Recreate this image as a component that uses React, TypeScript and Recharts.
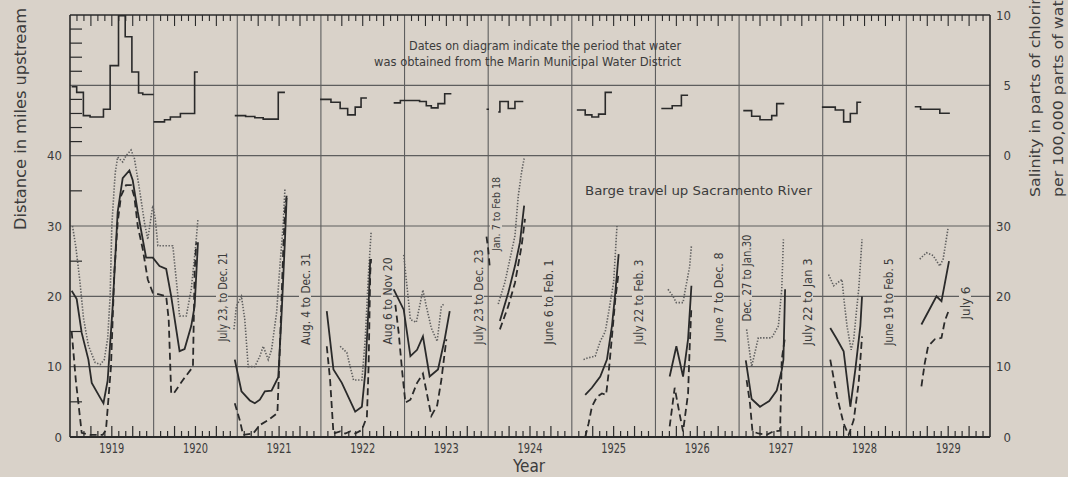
import React from 'react';
import { LineChart, Line, XAxis, YAxis, ReferenceLine } from 'recharts';

type Pt = [number, number];

// Tick labels
const yearLabels = [1919, 1920, 1921, 1922, 1923, 1924, 1925, 1926, 1927, 1928, 1929];
const leftMileLabels = [0, 10, 20, 30, 40];
const rightMileLabels = [0, 10, 20, 30];
const salinityLabels = [0, 5, 10];

// Distance in miles upstream, [year, miles], one segment per season
const solidMiles: Pt[][] = [
  [[1918.52, 20.8], [1918.58, 19.6], [1918.64, 14.8], [1918.72, 11], [1918.76, 7.7], [1918.86, 5.6], [1918.9, 4.8], [1918.95, 8], [1919.01, 18.5], [1919.07, 32], [1919.13, 36.8], [1919.21, 37.9], [1919.25, 36.5], [1919.31, 32], [1919.41, 25.5], [1919.49, 25.5], [1919.57, 24.3], [1919.65, 23.9], [1919.71, 20], [1919.81, 12.2], [1919.87, 12.5], [1919.95, 15.8], [1919.99, 18.6], [1920.03, 27.7]],
  [[1920.47, 11], [1920.55, 6.5], [1920.65, 5.2], [1920.71, 4.8], [1920.77, 5.3], [1920.83, 6.5], [1920.91, 6.6], [1920.99, 8.5], [1921.03, 17.5], [1921.07, 28], [1921.09, 34]],
  [[1921.57, 17.9], [1921.65, 9.6], [1921.75, 7.7], [1921.91, 3.6], [1921.99, 4.3], [1922.03, 9.1], [1922.07, 18.6], [1922.09, 25.3]],
  [[1922.37, 21], [1922.49, 18.1], [1922.57, 11.5], [1922.65, 12.4], [1922.72, 14.3], [1922.8, 8.6], [1922.9, 9.6], [1922.98, 13.9], [1923.04, 17.9]],
  [[1923.64, 16.5], [1923.74, 20.5], [1923.82, 24.3], [1923.88, 27.7], [1923.93, 32.9]],
  [[1924.66, 6], [1924.74, 7], [1924.84, 8.6], [1924.92, 11], [1924.98, 15.8], [1925.02, 20.5], [1925.06, 26]],
  [[1925.67, 8.6], [1925.75, 12.9], [1925.83, 8.6], [1925.89, 13.9], [1925.93, 21.5]],
  [[1926.58, 10.9], [1926.65, 5.4], [1926.75, 4.3], [1926.86, 5.1], [1926.95, 6.6], [1927.01, 9.5], [1927.03, 11], [1927.05, 21]],
  [[1927.59, 15.5], [1927.67, 13.9], [1927.75, 12.2], [1927.83, 4.3], [1927.89, 9.6], [1927.95, 15.8], [1927.97, 20]],
  [[1928.68, 16], [1928.86, 20], [1928.92, 19.3], [1929.01, 25]],
];

const dashedMiles: Pt[][] = [
  [[1918.52, 15], [1918.57, 8], [1918.64, 0.6], [1918.74, 0.3], [1918.89, 0.3], [1918.93, 1], [1918.99, 10], [1919.03, 23.4], [1919.07, 30.5], [1919.11, 34.3], [1919.17, 35.8], [1919.23, 35.8], [1919.27, 34.1], [1919.31, 30], [1919.37, 26.7], [1919.43, 22.4], [1919.49, 20.5], [1919.65, 20], [1919.68, 16.7], [1919.71, 6.2], [1919.74, 6.2], [1919.85, 8.1], [1919.97, 10], [1919.99, 23.4], [1920.01, 27.7]],
  [[1920.47, 4.8], [1920.53, 2.4], [1920.57, 0.3], [1920.69, 0.5], [1920.77, 1.7], [1920.87, 2.4], [1920.98, 3.4], [1921.01, 12.9], [1921.05, 26.7], [1921.07, 32], [1921.09, 34.3]],
  [[1921.57, 12.9], [1921.61, 8.1], [1921.65, 0.5], [1921.73, 0.8], [1921.79, 0.5], [1921.85, 0.8], [1921.91, 0.5], [1921.99, 1], [1922.05, 2.9], [1922.07, 10], [1922.09, 23.4], [1922.1, 25.3]],
  [[1922.39, 18.8], [1922.43, 14.8], [1922.47, 9.5], [1922.51, 4.9], [1922.57, 5.3], [1922.65, 7.7], [1922.72, 9], [1922.77, 6], [1922.82, 3], [1922.89, 4.5], [1922.94, 8.1], [1923.0, 13.9]],
  [[1923.48, 28.5], [1923.5, 26.7], [1923.52, 24]],
  [[1923.64, 15.3], [1923.74, 18.6], [1923.82, 21.9], [1923.9, 27.2], [1923.94, 31]],
  [[1924.66, 0], [1924.7, 1.9], [1924.74, 4.3], [1924.8, 5.7], [1924.86, 6.2], [1924.91, 6], [1924.94, 9.1], [1924.98, 14.3], [1925.02, 19.6], [1925.06, 23.4]],
  [[1925.67, 1.5], [1925.73, 7], [1925.79, 3.2], [1925.83, 0.8], [1925.89, 6.2], [1925.91, 13], [1925.93, 18.6]],
  [[1926.59, 8.1], [1926.63, 4.8], [1926.66, 0.8], [1926.73, 0.5], [1926.83, 0.3], [1926.91, 0.8], [1926.99, 0.9], [1927.01, 11], [1927.05, 14.3]],
  [[1927.59, 11], [1927.67, 5.8], [1927.75, 1.9], [1927.81, 0.3], [1927.87, 2.4], [1927.93, 7.7], [1927.97, 14.3]],
  [[1928.68, 7.2], [1928.72, 10.5], [1928.76, 12.9], [1928.84, 13.9], [1928.92, 14.1], [1928.96, 16.5], [1929.01, 18.1]],
];

const dottedMiles: Pt[][] = [
  [[1918.53, 30], [1918.57, 27], [1918.62, 22], [1918.66, 17], [1918.72, 13], [1918.8, 10.6], [1918.86, 10.3], [1918.91, 11], [1918.95, 14], [1918.98, 20], [1919.0, 30], [1919.04, 37.5], [1919.07, 39.8], [1919.13, 39.1], [1919.17, 40], [1919.23, 40.8], [1919.27, 39.6], [1919.33, 35.3], [1919.39, 30.5], [1919.43, 28.1], [1919.49, 32.9], [1919.52, 31], [1919.55, 27.2], [1919.73, 27.2], [1919.79, 20], [1919.81, 17.2], [1919.89, 17.2], [1919.95, 21], [1920.01, 28.1], [1920.03, 31]],
  [[1920.46, 15.3], [1920.49, 18.6], [1920.55, 20], [1920.59, 16.7], [1920.63, 10], [1920.71, 10], [1920.77, 11.5], [1920.81, 12.9], [1920.87, 11], [1920.91, 12.4], [1920.97, 17.7], [1921.01, 24.3], [1921.05, 30.5], [1921.07, 35.3]],
  [[1921.73, 12.9], [1921.81, 12], [1921.85, 10], [1921.89, 8.1], [1921.99, 8.1], [1922.03, 13.9], [1922.07, 23.4], [1922.1, 29.1]],
  [[1922.49, 25.9], [1922.55, 19], [1922.57, 16.7], [1922.64, 16.3], [1922.72, 20.9], [1922.76, 18.6], [1922.82, 15.5], [1922.89, 13.6], [1922.94, 18.6], [1922.98, 19]],
  [[1923.62, 18.9], [1923.7, 22], [1923.82, 28.6], [1923.86, 34.3], [1923.9, 37.7], [1923.93, 39.6]],
  [[1924.64, 11], [1924.68, 11.2], [1924.78, 11.5], [1924.84, 13.6], [1924.9, 15], [1924.94, 17.7], [1925.0, 22], [1925.04, 30]],
  [[1925.65, 21], [1925.71, 20], [1925.75, 19.1], [1925.83, 19.1], [1925.85, 20.5], [1925.91, 24.3], [1925.93, 27.2]],
  [[1926.59, 15.3], [1926.65, 10], [1926.73, 14.1], [1926.89, 14.1], [1926.97, 15.8], [1927.01, 21], [1927.03, 28.1]],
  [[1927.57, 23.1], [1927.63, 21.5], [1927.73, 22.4], [1927.75, 20], [1927.79, 15.8], [1927.84, 12.4], [1927.87, 13.9], [1927.93, 21], [1927.97, 28.1]],
  [[1928.66, 25.3], [1928.74, 26.2], [1928.82, 25.8], [1928.9, 24.3], [1928.94, 25.3], [1929.0, 29.8]],
];

// Salinity, parts of chlorine per 100,000 parts of water, [year, value], stepped
const salinitySteps: Pt[][] = [
  [[1918.52, 4.9], [1918.58, 4.5], [1918.66, 2.85], [1918.74, 2.75], [1918.9, 3.3], [1918.98, 6.4], [1919.08, 9.95], [1919.16, 8.45], [1919.24, 5.95], [1919.32, 4.45], [1919.37, 4.35], [1919.5, 4.35]],
  [[1919.5, 2.4], [1919.63, 2.55], [1919.7, 2.75], [1919.82, 3.0], [1919.99, 5.95], [1920.03, 5.95]],
  [[1920.47, 2.85], [1920.6, 2.78], [1920.71, 2.7], [1920.81, 2.6], [1920.99, 4.5], [1921.07, 4.5]],
  [[1921.49, 4.0], [1921.62, 3.8], [1921.73, 3.35], [1921.82, 2.9], [1921.91, 3.45], [1921.98, 4.1], [1922.05, 4.1]],
  [[1922.37, 3.75], [1922.45, 3.92], [1922.68, 3.85], [1922.76, 3.55], [1922.82, 3.4], [1922.9, 3.7], [1922.98, 4.4], [1923.06, 4.4]],
  [[1923.48, 3.3], [1923.51, 3.3]],
  [[1923.62, 3.1], [1923.64, 3.85], [1923.74, 3.35], [1923.82, 3.85], [1923.92, 3.85]],
  [[1924.56, 3.25], [1924.66, 2.9], [1924.74, 2.75], [1924.82, 2.95], [1924.9, 4.5], [1924.98, 4.5]],
  [[1925.57, 3.35], [1925.7, 3.55], [1925.81, 4.3], [1925.89, 4.3]],
  [[1926.55, 3.2], [1926.65, 2.8], [1926.75, 2.55], [1926.89, 2.85], [1926.95, 3.7], [1927.04, 3.7]],
  [[1927.49, 3.45], [1927.65, 3.25], [1927.75, 2.4], [1927.83, 3.0], [1927.91, 3.8], [1927.96, 3.8]],
  [[1928.6, 3.48], [1928.67, 3.3], [1928.9, 3.02], [1929.02, 3.02]],
];

const periodNotes = [
  'July 23, to Dec. 21',
  'Aug. 4 to Dec. 31',
  'Aug 6 to Nov 20',
  'July 23 to Dec. 23',
  'Jan. 7 to Feb 18',
  'June 6 to Feb. 1',
  'July 22 to Feb. 3',
  'June 7 to Dec. 8',
  'Dec. 27 to Jan.30',
  'July 22 to Jan 3',
  'June 19 to Feb. 5',
  'July 6',
];

// layout of the rotated period notes: [centre x, centre y, length]
const noteLayout: [number, number, number][] = [
  [222, 297, 89], [305, 299, 92], [387, 301, 87], [478, 297, 95], [496, 214, 74],
  [548, 302, 85], [638, 302, 85], [718, 297, 89], [746, 278, 87], [807, 302, 87],
  [888, 302, 87], [965, 303, 33],
];

const BG = '#d9d2c9';
const INK = '#2a2a2a';
const GRID = '#5e5e5e';
const TEXT = '#3c3c3c';
const FONT = "'DejaVu Sans Condensed', 'DejaVu Sans', sans-serif";

const X0 = 1918.5;
const X1 = 1929.5;
const PLOT_TOP = 15;
const PLOT_BOTTOM = 437;
const monthTicks = Array.from({ length: 133 }, (_, i) => X0 + i / 12);
const mileTicks = [0, 5, 10, 15, 20, 25, 30, 35, 40, 42, 44, 46, 48, 50, 52, 54, 56, 58, 60];
const gridYears = yearLabels.slice(0, -1).map((y) => y + 0.5);
const gridMiles = [10, 20, 30, 40, 50];

function toRows(segments: Pt[][]) {
  const rows: { t: number; v: number | null }[] = [];
  segments.forEach((seg, i) => {
    if (i > 0) {
      const prev = segments[i - 1];
      rows.push({ t: (prev[prev.length - 1][0] + seg[0][0]) / 2, v: null });
    }
    seg.forEach(([t, v]) => rows.push({ t, v }));
  });
  return rows;
}

function monthLen(value: number) {
  const i = Math.round((value - X0) * 12);
  const mo = (i + 6) % 12; // 0 = January
  if (mo === 6) return 0;
  return mo % 3 === 0 ? 11 : 6;
}

function BottomTick(props: any) {
  const { x, y, payload } = props;
  const len = monthLen(payload.value);
  const i = Math.round((payload.value - X0) * 12);
  const yr = Math.round(payload.value);
  const isLabel = (i + 6) % 12 === 0 && yearLabels.includes(yr);
  return (
    <g>
      {len > 0 && <line x1={x} x2={x} y1={y} y2={y - len} stroke={INK} strokeWidth={1.2} />}
      {isLabel && (
        <text x={x} y={y + 16} textAnchor="middle" fontSize={13.5} fill={TEXT} fontFamily={FONT} textLength={25} lengthAdjust="spacingAndGlyphs">
          {yr}
        </text>
      )}
    </g>
  );
}

function TopTick(props: any) {
  const { x, y, payload } = props;
  const len = monthLen(payload.value);
  return len > 0 ? <line x1={x} x2={x} y1={y} y2={y + len} stroke={INK} strokeWidth={1.1} /> : <g />;
}

function LeftTick(props: any) {
  const { x, y, payload } = props;
  const v = payload.value;
  const len = v % 10 === 0 ? 0 : 12;
  return (
    <g>
      {len > 0 && <line x1={x} x2={x + len} y1={y} y2={y} stroke={INK} strokeWidth={1.2} />}
      {leftMileLabels.includes(v) && (
        <text x={x - 8} y={y} dy={4.5} textAnchor="end" fontSize={13} fill={TEXT} fontFamily={FONT}>
          {v}
        </text>
      )}
    </g>
  );
}

function RightTick(props: any) {
  const { x, y, payload } = props;
  const v = payload.value;
  const len = v % 10 === 0 ? 0 : 14;
  return len > 0 ? <line x1={x} x2={x - len} y1={y} y2={y} stroke={INK} strokeWidth={1.2} /> : <g />;
}

// right-hand scale: lower part in miles, upper part in salinity (s -> 40 + 2s miles)
const rightLabels = [
  ...rightMileLabels.map((m) => ({ miles: m, text: String(m) })),
  ...salinityLabels.map((s) => ({ miles: 40 + 2 * s, text: String(s) })),
];
const milesToPx = (m: number) => PLOT_BOTTOM - (m / 60) * (PLOT_BOTTOM - PLOT_TOP);

export default function App() {
  const solid = toRows(solidMiles);
  const dashed = toRows(dashedMiles);
  const dotted = toRows(dottedMiles);
  const salinity = toRows(salinitySteps);

  return (
    <div style={{ position: 'absolute', left: 0, top: 0, width: 1068, height: 477, background: BG, overflow: 'hidden' }}>
      <LineChart width={1068} height={477} margin={{ top: 0, right: 0, bottom: 0, left: 0 }}>
        <XAxis
          xAxisId="b"
          type="number"
          dataKey="t"
          domain={[X0, X1]}
          ticks={monthTicks}
          interval={0}
          height={40}
          tickSize={0}
          tickMargin={0}
          tickLine={false}
          tick={BottomTick}
          axisLine={{ stroke: INK, strokeWidth: 2.2 }}
          allowDataOverflow
        />
        <XAxis
          xAxisId="t"
          orientation="top"
          type="number"
          dataKey="t"
          domain={[X0, X1]}
          ticks={monthTicks}
          interval={0}
          height={15}
          tickSize={0}
          tickMargin={0}
          tickLine={false}
          tick={TopTick}
          axisLine={{ stroke: INK, strokeWidth: 1.3 }}
          allowDataOverflow
        />
        <YAxis
          yAxisId="l"
          type="number"
          domain={[0, 60]}
          ticks={mileTicks}
          interval={0}
          width={70}
          tickSize={0}
          tickMargin={0}
          tickLine={false}
          tick={LeftTick}
          axisLine={{ stroke: INK, strokeWidth: 1.6 }}
        />
        <YAxis
          yAxisId="r"
          orientation="right"
          type="number"
          domain={[0, 60]}
          ticks={mileTicks}
          interval={0}
          width={78}
          tickSize={0}
          tickMargin={0}
          tickLine={false}
          tick={RightTick}
          axisLine={{ stroke: INK, strokeWidth: 1.6 }}
        />
        <YAxis yAxisId="sal" type="number" domain={[-20, 10]} hide />

        {gridMiles.map((m) => (
          <ReferenceLine key={`gy${m}`} xAxisId="b" yAxisId="l" y={m} stroke={GRID} strokeWidth={1.1} />
        ))}
        {gridYears.map((t) => (
          <ReferenceLine key={`gx${t}`} xAxisId="b" yAxisId="l" x={t} stroke={GRID} strokeWidth={1.1} />
        ))}

        <Line
          xAxisId="b"
          yAxisId="l"
          data={dotted}
          dataKey="v"
          type="linear"
          stroke="#5f5f5f"
          strokeWidth={1.6}
          strokeDasharray="1.4 1.6"
          dot={false}
          activeDot={false}
          isAnimationActive={false}
        />
        <Line
          xAxisId="b"
          yAxisId="l"
          data={dashed}
          dataKey="v"
          type="linear"
          stroke={INK}
          strokeWidth={1.8}
          strokeDasharray="7 4"
          dot={false}
          activeDot={false}
          isAnimationActive={false}
        />
        <Line
          xAxisId="b"
          yAxisId="l"
          data={solid}
          dataKey="v"
          type="linear"
          stroke={INK}
          strokeWidth={1.8}
          dot={false}
          activeDot={false}
          isAnimationActive={false}
        />
        <Line
          xAxisId="b"
          yAxisId="sal"
          data={salinity}
          dataKey="v"
          type="stepAfter"
          stroke={INK}
          strokeWidth={1.6}
          dot={false}
          activeDot={false}
          isAnimationActive={false}
        />
      </LineChart>

      <svg width={1068} height={477} style={{ position: 'absolute', left: 0, top: 0, pointerEvents: 'none' }} fontFamily={FONT} fill={TEXT}>
        {rightLabels.map((r) => (
          <text key={`r${r.miles}`} x={1011} y={milesToPx(r.miles)} dy={4.5} textAnchor="end" fontSize={13}>
            {r.text}
          </text>
        ))}
        <text x={21} y={119} transform="rotate(-90 21 119)" textAnchor="middle" dominantBaseline="central" fontSize={15} textLength={222} lengthAdjust="spacingAndGlyphs">
          Distance in miles upstream
        </text>
        <text x={1035} y={197} transform="rotate(-90 1035 197)" textAnchor="start" dominantBaseline="central" fontSize={14} textLength={212} lengthAdjust="spacingAndGlyphs">
          Salinity in parts of chlorine
        </text>
        <text x={1058} y={197} transform="rotate(-90 1058 197)" textAnchor="start" dominantBaseline="central" fontSize={14} textLength={213} lengthAdjust="spacingAndGlyphs">
          per 100,000 parts of water
        </text>
        <text x={529} y={472} textAnchor="middle" fontSize={17}>
          Year
        </text>
        <text x={681} y={50} textAnchor="end" fontSize={12} textLength={272} lengthAdjust="spacingAndGlyphs">
          Dates on diagram indicate the period that water
        </text>
        <text x={681} y={66} textAnchor="end" fontSize={12} textLength={307} lengthAdjust="spacingAndGlyphs">
          was obtained from the Marin Municipal Water District
        </text>
        <text x={585} y={195} fontSize={13} textLength={227} lengthAdjust="spacingAndGlyphs">
          Barge travel up Sacramento River
        </text>
        {periodNotes.map((note, i) => {
          const [cx, cy, len] = noteLayout[i];
          const fs = i === 4 ? 10.5 : 12.5;
          return (
            <g key={note}>
              <rect x={cx - 6} y={cy - len / 2 - 3} width={12} height={len + 6} fill={BG} />
              <text x={cx} y={cy} transform={`rotate(-90 ${cx} ${cy})`} textAnchor="middle" dominantBaseline="central" fontSize={fs} textLength={len} lengthAdjust="spacingAndGlyphs">
                {note}
              </text>
            </g>
          );
        })}
      </svg>
    </div>
  );
}
